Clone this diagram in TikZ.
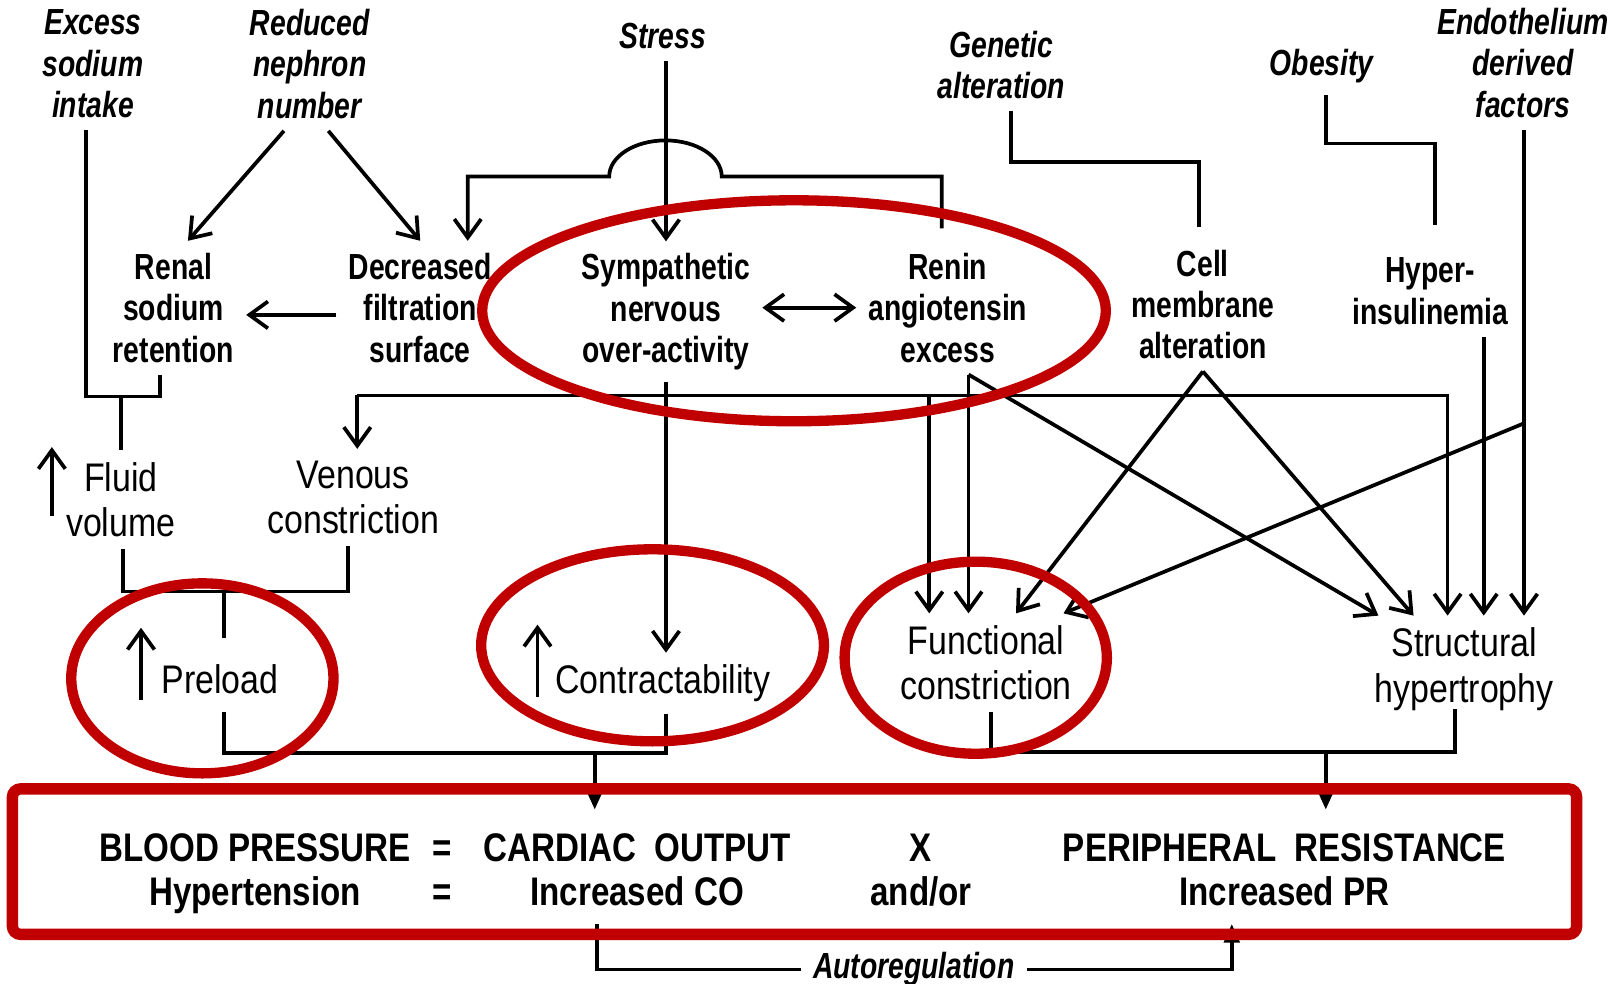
\documentclass[tikz,border=0pt]{standalone}
\usepackage{fontspec}
\setmainfont{Liberation Sans}
\newfontfamily\narrowfont[FakeStretch=0.78]{Liberation Sans}
\newfontfamily\thinfont[FakeStretch=0.85]{Liberation Sans}
\newfontfamily\boxfont[FakeStretch=0.83]{Liberation Sans}
\usetikzlibrary{arrows.meta,positioning}
\definecolor{markred}{RGB}{192,0,0}

\begin{document}
\begin{tikzpicture}[x=0.1mm,y=-0.1mm,line width=0.36mm,
        >={Straight Barb[length=1.8mm,width=2.6mm]},
        node distance=4.3mm,on grid,
        cause/.style={font=\fontsize{10}{11.4}\narrowfont\bfseries\itshape,align=center,inner sep=1mm},
        factor/.style={font=\fontsize{10}{11.4}\narrowfont\bfseries,align=center,inner sep=1mm},
        effect/.style={font=\fontsize{11}{12.5}\thinfont,align=center,inner sep=1mm},
        term/.style={font=\fontsize{11}{12.5}\boxfont\bfseries,text height=8pt,text depth=2.3pt,inner sep=0.8mm},
        into/.style={-{Triangle[length=1.8mm,width=1.5mm]}},
        ring/.style={draw=markred,line width=1mm}]
    \useasboundingbox (0,0) rectangle (1568,953);
    \node[cause] (salt) at (90,62) {Excess\\sodium\\intake};
    \node[cause] (nephron) at (300,62) {Reduced\\nephron\\number};
    \node[cause] (stress) at (642,35) {Stress};
    \node[cause] (genetic) at (970,63) {Genetic\\alteration};
    \node[cause] (obesity) at (1280,64) {Obesity};
    \node[cause] (endo) at (1475,61) {Endothelium\\derived\\factors};
    \node[factor] (renal) at (168,298) {Renal\\sodium\\retention};
    \node[factor] (filtr) at (407,298) {Decreased\\filtration\\surface};
    \node[factor] (symp) at (645,302) {Sympathetic\\nervous\\over-activity};
    \node[factor] (renin) at (918,298) {Renin\\angiotensin\\excess};
    \node[factor] (cell) at (1165,295) {Cell\\membrane\\alteration};
    \node[factor] (insulin) at (1385,282) {Hyper-\\insulinemia};
    \node[effect] (fluid) at (117,484) {Fluid\\volume};
    \node[effect] (venous) at (342,482) {Venous\\constriction};
    \node[effect] (preload) at (213,658) {Preload};
    \node[effect] (contr) at (642,662) {Contractability};
    \node[effect] (func) at (955,642) {Functional\\constriction};
    \node[effect] (struct) at (1418,648) {Structural\\hypertrophy};
    \node[term] (bp) at (247,824) {BLOOD PRESSURE};
    \node[term] (eq_1) at (428,824) {=};
    \node[term] (co) at (617,824) {CARDIAC\ \ OUTPUT};
    \node[term] (times) at (892,824) {X};
    \node[term] (pr) at (1244,824) {PERIPHERAL\ \ RESISTANCE};
    \node[term] (hyp) [below=of bp] {Hypertension};
    \node[term] (eq_2) [below=of eq_1] {=};
    \node[term] (inc_co) [below=of co] {Increased CO};
    \node[term] (andor) [below=of times] {and/or};
    \node[term] (inc_pr) [below=of pr] {Increased PR};
    \node[cause] (autoreg) at (885,939) {Autoregulation};

    \coordinate (j_salt) at (117,384);
    \coordinate (j_endo) at (1476,410);
    \coordinate (bus_l) at (346,383);
    \coordinate (j_load) at (217,573);
    \coordinate (j_co) at (576,729);
    \coordinate (j_pr) at (1284,728);

    \draw (83,0 |- salt.south) -- (83,384) -| (155,0 |- renal.south);
    \draw (j_salt) -- (j_salt |- fluid.north);
    \draw[->] ([xshift=-2.5mm]nephron.south) -- ([xshift=1.4mm]renal.north);
    \draw[->] ([xshift=1.8mm]nephron.south) -- (filtr.north);
    \draw[->] ([yshift=-0.7mm]filtr.west) -- ([yshift=-0.7mm]renal.east);
    \draw[->,shorten <=1.2mm] (912,0 |- renin.north) -- (912,171) -- (699,171)
        arc[start angle=0,end angle=-180,x radius=54.5,y radius=35] -- (453,171) -- (453,0 |- filtr.north);
    \draw[->] (645,0 |- stress.south) -- (645,0 |- symp.north);
    \draw[<->] (renin.west -| symp.east) -- (renin.west);
    \draw[shorten >=1mm] (979,0 |- genetic.south) -- (979,157) -| (1161,0 |- cell.north);
    \draw[shorten >=2mm] (1284,0 |- obesity.south) -- (1284,139) -| (1390,0 |- insulin.north);
    \draw[->] (1476,0 |- endo.south) -- (1476,0 |- struct.north);
    \draw[->] (j_endo) -- ([xshift=7.5mm]func.north);
    \draw[->] (1437,0 |- insulin.south) -- (1437,0 |- struct.north);
    \draw[->] (645,0 |- symp.south) -- (645,0 |- contr.north);
    \draw[->] (bus_l) -- (bus_l |- venous.north);
    \draw[->] (bus_l) -| (1402,0 |- struct.north);
    \draw[->] (900,383) -- (900,0 |- func.north);
    \draw[->] (938,0 |- renin.south) -- (938,0 |- func.north);
    \draw[->] (938,0 |- renin.south) -- ([xshift=-8.3mm]struct.north);
    \draw[->] (cell.south) -- ([xshift=2.9mm]func.north);
    \draw[->] (cell.south) -- ([xshift=-4.9mm]struct.north);

    \draw[->] ([shift={(-0.2mm,-1.6mm)}]fluid.west) -- ([shift={(-0.2mm,5.1mm)}]fluid.west);
    \draw[->] ([shift={(-0.8mm,-2mm)}]preload.west) -- ([shift={(-0.8mm,5mm)}]preload.west);
    \draw[->] ([shift={(-0.55mm,-1.3mm)}]contr.west) -- ([shift={(-0.55mm,5.7mm)}]contr.west);

    \draw (119,0 |- fluid.south) -- (119,573) -| (337,0 |- venous.south);
    \draw[shorten >=1.4mm] (j_load) -- (j_load |- preload.north);
    \draw[shorten <=0.6mm] (217,0 |- preload.south) -- (217,729) -| (645,0 |- contr.south);
    \draw[into,shorten >=1.2mm] (j_co) -- (j_co |- co.north);
    \draw[shorten >=-1.3mm] (960,0 |- func.south) -- (960,728) -| (1409,0 |- struct.south);
    \draw[into,shorten >=1.2mm] (j_pr) -- (j_pr |- pr.north);
    \draw (578,0 |- inc_co.south) |- (autoreg.west);
    \draw[into] (autoreg.east) -| (1193,0 |- inc_pr.south);

    \draw[ring] (769,301) ellipse [x radius=302,y radius=107];
    \draw[ring] (196,657) ellipse [x radius=127,y radius=92];
    \draw[ring] (632,625) ellipse [x radius=166,y radius=93];
    \draw[ring] (945,637) ellipse [x radius=127,y radius=93];
    \draw[ring,line width=1.1mm,rounded corners=0.8mm] (12,764) rectangle (1527,905);
\end{tikzpicture}
\end{document}
